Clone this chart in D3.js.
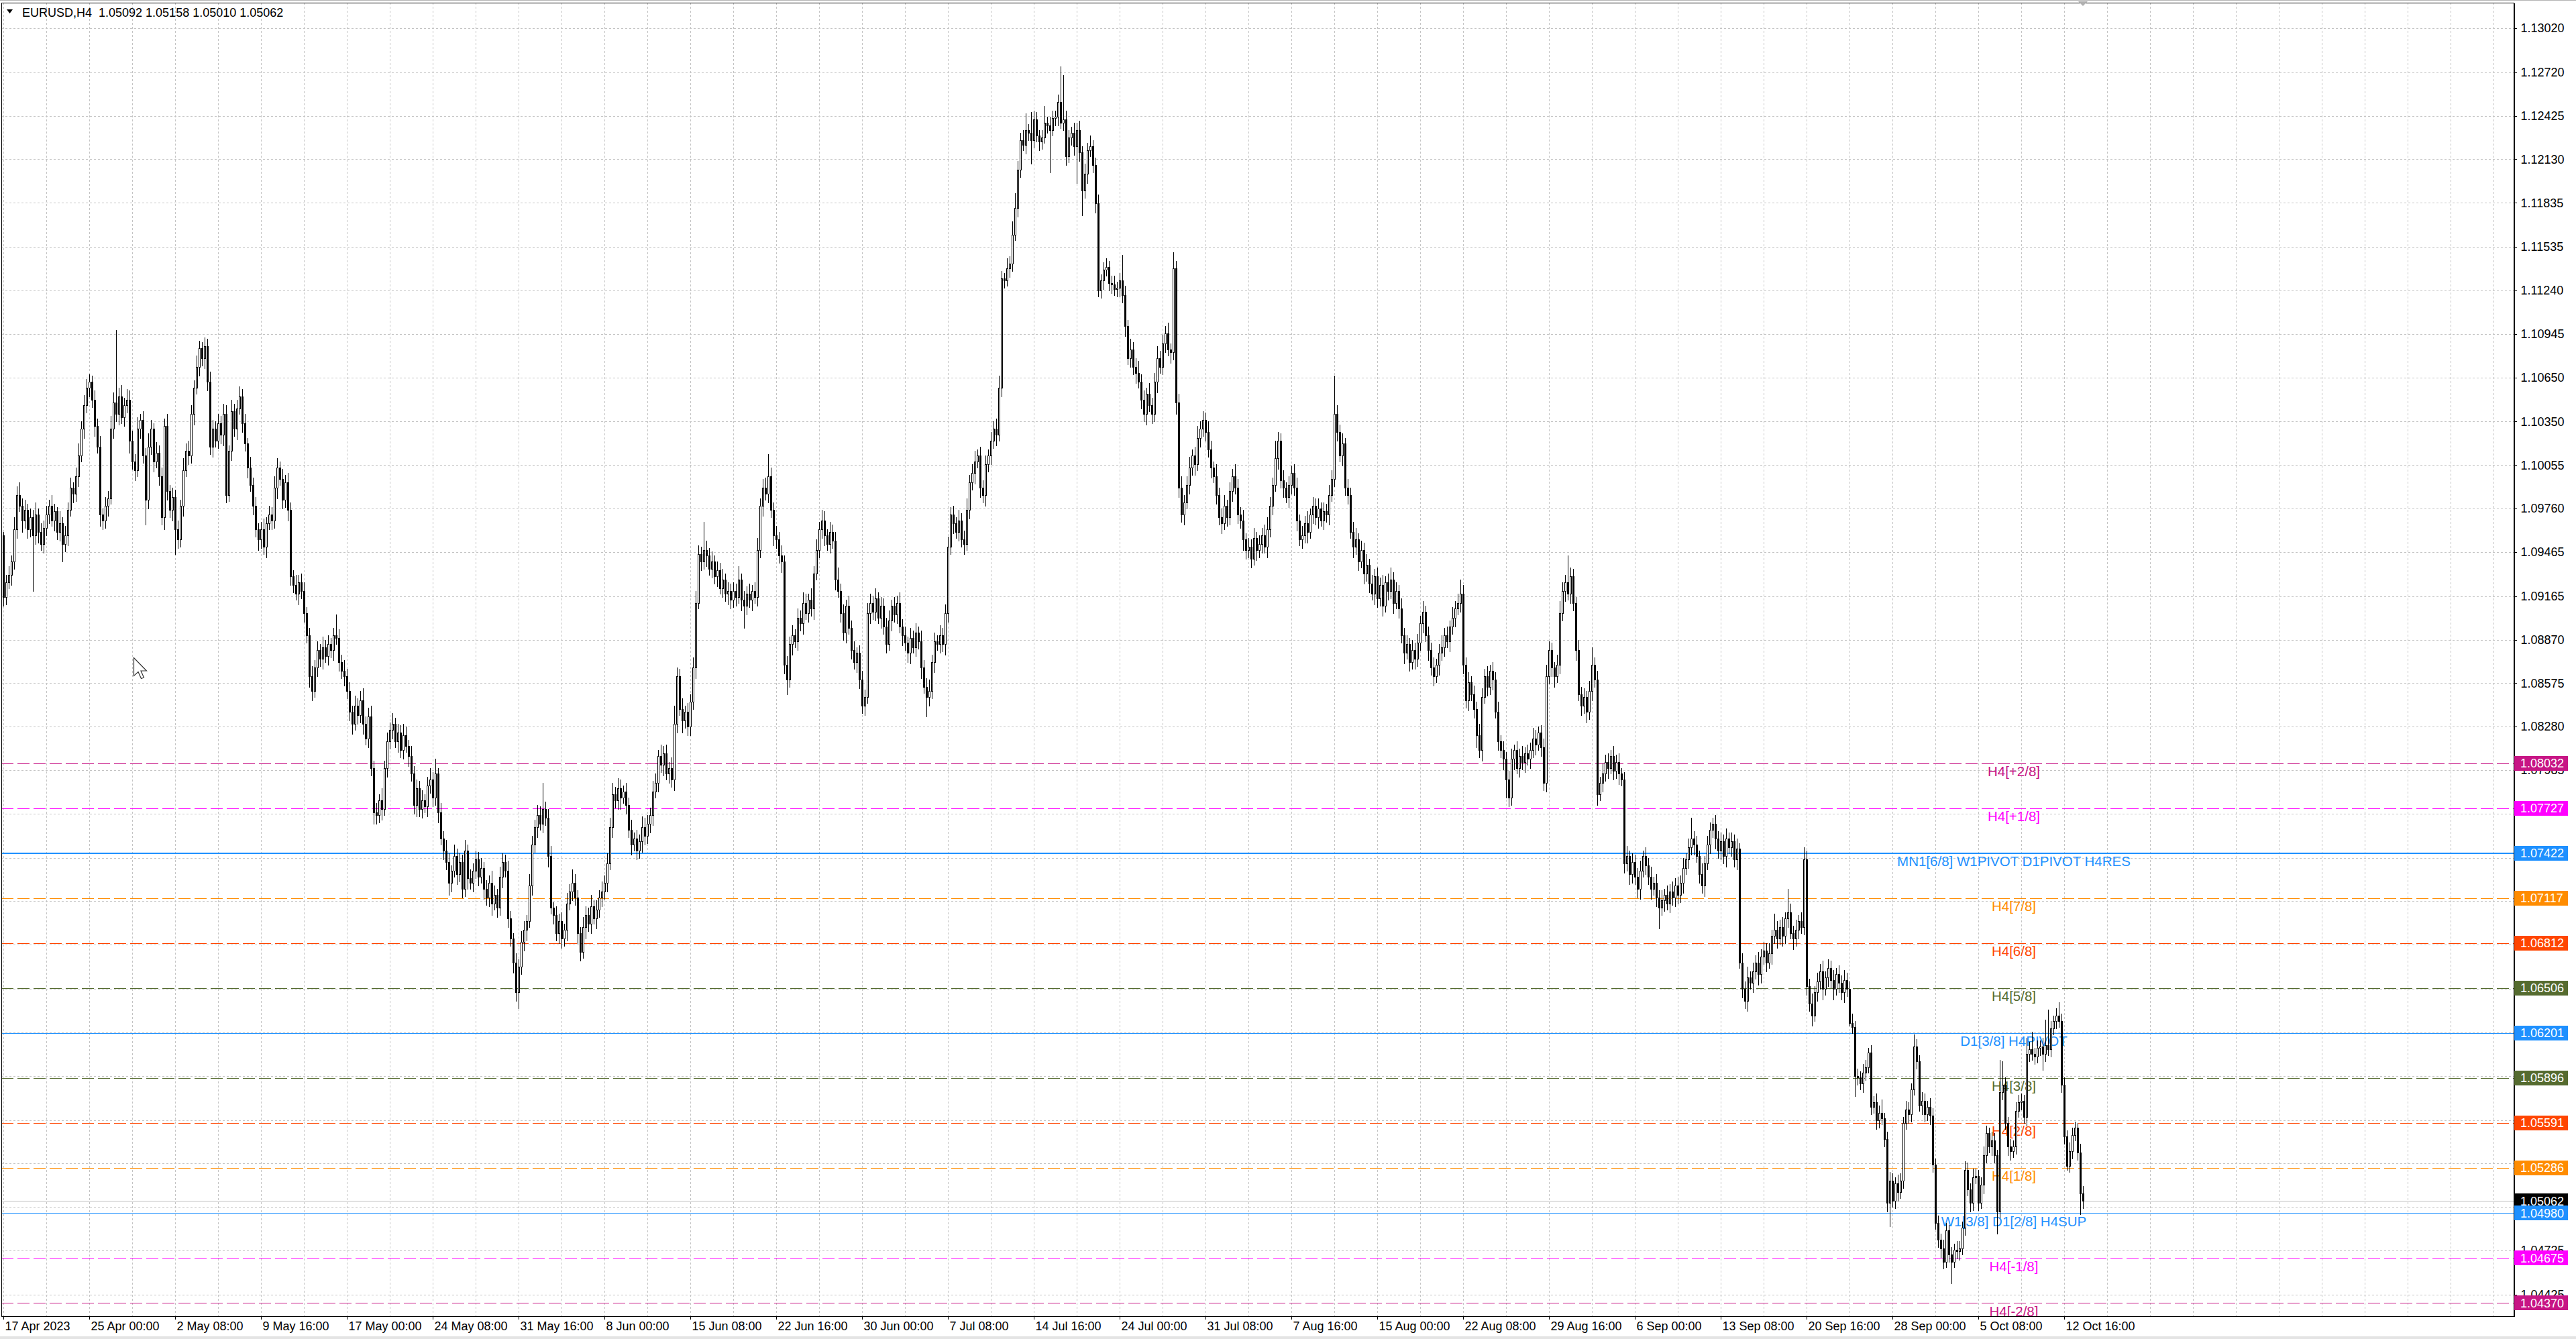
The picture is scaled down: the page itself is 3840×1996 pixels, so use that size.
<!DOCTYPE html>
<html lang="en">
<head>
<meta charset="UTF-8">
<title>EURUSD,H4</title>
<script src="https://d3js.org/d3.v7.min.js"></script>
<style>
  html, body { margin: 0; padding: 0; background: #fff; overflow: hidden; }
  svg { display: block; font-family: "Liberation Sans", Arial, sans-serif; }
  .grid line { stroke: #c4c4c4; stroke-width: 1; stroke-dasharray: 3,3; shape-rendering: crispEdges; }
  .axis line, .axis path { stroke: #000; shape-rendering: crispEdges; }
  .lvl-text { font-size: 20.5px; text-anchor: middle; }
</style>
</head>
<body>
<svg id="chart" width="3840" height="1996"></svg>
<script>
// H4 closes, in pips above 1.0000 (one row = 16 bars)
const closes = [
  916,926,931,940,962,985,978,968,975,962,970,958,972,960,952,963,
  972,978,968,974,960,966,952,958,975,990,986,998,1012,1030,1046,1058,
  1062,1050,1032,1018,972,968,978,983,1030,1048,1040,1052,1038,1046,1050,1022,
  1008,1002,1030,1036,1012,982,1018,1030,1008,1014,998,970,1032,988,975,984,
  962,955,978,1002,1015,1012,1040,1058,1072,1085,1078,1086,1062,1018,1030,1022,
  1034,1026,1040,985,1015,1042,1030,1044,1052,1034,1020,1004,992,978,962,955,
  962,950,966,972,968,990,1004,996,982,994,975,930,924,918,926,920,
  905,890,862,852,868,880,874,882,876,884,880,890,888,872,866,862,
  852,838,830,842,836,846,830,820,835,800,770,768,778,772,800,818,
  826,830,818,824,812,822,815,808,796,775,786,772,778,774,788,792,
  780,796,770,752,744,736,722,730,740,728,736,718,744,725,722,730,
  738,726,732,718,712,722,708,714,705,726,736,730,698,684,668,648,
  665,682,690,696,720,748,760,768,762,772,766,740,705,700,688,696,
  684,690,708,716,722,712,688,675,692,700,694,706,698,704,712,716,
  722,735,760,782,778,786,780,784,775,758,748,752,744,750,760,754,
  762,768,784,790,808,802,810,796,800,792,830,862,840,832,838,828,
  845,868,912,945,940,948,944,935,940,930,934,922,928,918,920,914,
  920,916,928,914,910,918,914,920,916,948,978,990,986,998,975,958,
  955,944,940,870,860,884,890,886,902,898,912,905,914,908,932,948,
  962,968,958,952,960,954,928,920,905,892,910,895,880,872,878,860,
  842,848,905,912,906,915,902,910,896,884,900,910,904,912,896,890,
  885,878,888,882,892,886,868,855,848,852,872,886,884,890,884,905,
  950,972,966,960,968,955,952,975,994,1000,1008,1012,990,985,1006,1012,
  1022,1030,1026,1058,1132,1131,1139,1142,1162,1180,1206,1226,1223,1233,1231,1226,
  1240,1229,1225,1228,1238,1236,1233,1241,1242,1252,1238,1240,1215,1228,1231,1222,
  1233,1218,1192,1203,1219,1222,1209,1183,1124,1131,1138,1140,1129,1128,1125,1126,
  1131,1121,1100,1078,1084,1072,1068,1062,1050,1040,1054,1046,1040,1062,1078,1072,
  1088,1095,1084,1082,1139,1048,990,972,980,992,1004,1012,1006,1024,1030,1036,
  1028,1016,1004,998,985,970,966,978,970,988,998,990,972,968,955,948,
  950,942,956,948,952,958,950,962,978,992,1010,1022,995,990,984,992,
  1000,990,968,955,958,966,960,972,978,970,976,968,974,972,985,996,
  1040,1028,1012,1020,990,985,960,950,955,940,948,932,938,925,918,930,
  915,924,910,926,920,928,912,920,908,890,878,884,872,880,874,885,
  898,906,890,880,868,862,870,878,882,890,886,896,902,908,912,918,
  870,846,858,850,840,822,812,848,862,855,866,860,838,818,812,806,
  792,780,806,812,800,808,804,810,806,812,820,816,824,814,790,862,
  880,868,862,870,905,920,926,918,930,912,880,850,842,848,838,852,
  870,860,782,790,796,804,800,808,798,804,796,792,735,740,728,736,
  726,718,730,740,734,726,718,722,712,705,710,714,708,716,712,720,
  714,722,732,738,746,752,748,740,728,720,735,748,758,762,752,744,
  750,740,752,746,750,738,745,668,650,642,658,654,662,668,660,672,
  676,668,674,686,690,684,692,686,698,702,688,684,690,696,692,738,
  652,640,632,648,655,662,650,658,664,656,650,660,654,648,656,650,
  627,624,591,590,586,593,597,607,570,573,561,566,562,548,505,520,
  506,518,512,520,559,568,565,582,611,601,571,574,565,570,564,531,
  491,480,474,465,486,470,465,473,472,474,488,527,514,505,522,523,
  505,517,537,552,543,547,537,499,580,585,559,543,540,543,567,573,
  574,563,606,609,606,604,610,611,606,612,609,623,628,632,628,585,
  550,530,540,551,556,539,511,506
];
const firstOpen = 958;

// wick lengths in pips, above the body and below the body
const upWick = [
  2,5,6,4,8,6,9,5,7,4,6,5,8,4,6,5,
  6,4,7,5,3,8,4,6,5,7,4,6,8,5,7,6,
  5,4,6,5,7,4,6,5,9,7,49,6,8,5,7,6,
  7,5,8,4,6,5,9,6,4,7,5,6,5,8,4,6,
  5,6,4,8,5,7,6,5,8,5,4,6,5,7,6,5,
  6,5,7,6,4,8,5,6,7,5,6,4,7,5,6,4,
  5,7,4,6,5,8,6,4,7,5,6,5,4,7,5,6,
  6,4,5,7,5,6,4,7,5,6,4,5,14,6,5,7,
  5,6,4,7,5,6,8,5,6,7,5,6,4,8,5,6,
  5,7,4,6,5,8,6,4,7,5,6,5,7,4,6,8,
  5,10,4,6,5,7,6,4,8,5,6,5,7,4,6,5,
  6,5,7,4,6,5,8,6,4,7,6,5,7,5,4,6,
  5,7,6,4,8,6,5,7,6,18,5,6,7,4,6,5,
  6,4,7,5,9,6,5,4,7,6,5,8,4,6,5,7,
  5,7,6,8,5,7,6,4,6,5,7,4,6,5,7,6,
  6,5,7,6,4,8,5,6,4,7,12,6,5,7,4,6,
  5,7,8,6,5,19,6,5,7,4,6,5,7,4,6,5,
  6,5,9,4,6,5,7,4,6,8,5,6,7,15,6,5,
  6,5,7,4,6,5,7,4,6,5,7,6,4,8,5,7,
  5,7,6,4,7,5,6,8,5,6,4,7,5,6,4,5,
  6,5,7,6,5,7,4,6,5,6,7,4,6,5,7,5,
  6,4,7,5,6,4,7,5,6,8,5,6,4,7,5,6,
  7,5,6,4,7,5,6,8,5,6,7,4,6,5,6,4,
  6,5,7,8,5,4,7,5,9,10,6,5,7,11,4,14,
  6,5,4,5,11,4,6,5,4,5,24,30,6,5,4,7,
  5,6,4,7,5,7,4,5,6,4,5,6,4,5,6,4,
  5,17,6,4,7,5,6,8,5,6,4,7,5,6,8,5,
  6,5,7,4,11,5,6,8,5,6,7,4,6,8,5,6,
  5,7,6,4,8,5,6,7,4,6,5,8,6,5,7,4,
  6,5,7,4,6,5,7,8,6,5,12,6,5,7,4,6,
  5,6,7,4,6,5,8,4,6,5,7,4,6,5,7,6,
  26,6,5,7,4,6,5,7,8,4,6,5,7,4,6,5,
  6,5,7,4,6,8,5,6,4,7,5,6,4,7,5,6,
  5,7,4,6,5,7,4,6,8,5,6,4,7,5,6,10,
  6,5,7,4,6,5,8,6,5,7,4,6,5,7,4,6,
  5,6,7,4,6,5,7,4,6,5,7,6,4,5,6,8,
  6,5,4,7,8,6,5,18,6,5,4,7,5,6,4,7,
  12,5,6,4,7,5,6,4,7,5,6,4,5,7,4,6,
  5,6,7,4,6,5,7,4,6,5,7,4,6,5,7,5,
  6,5,7,4,6,14,5,6,4,7,5,6,5,4,6,5,
  6,5,7,4,6,5,7,4,6,5,7,4,6,5,7,5,
  6,5,7,4,11,6,5,7,4,16,6,5,7,4,6,8,
  6,5,7,4,6,5,7,4,6,5,7,4,6,5,7,5,
  5,6,4,5,4,6,5,3,5,4,6,5,9,4,5,6,
  5,4,6,5,4,6,5,4,8,5,4,6,5,4,6,5,
  4,5,4,6,5,4,5,4,6,5,4,6,5,4,6,5,
  4,5,6,5,4,6,5,4,22,16,5,4,5,4,6,5,
  5,4,11,5,12,4,5,4,6,17,24,5,4,5,9,5,
  5,4,6,5,4,3,6,5
];
const lowWick = [
  6,5,4,7,5,6,4,8,5,6,5,38,6,7,4,6,
  5,6,4,7,5,6,12,5,7,4,6,5,7,4,6,5,
  6,5,7,4,8,6,5,7,4,6,5,7,4,6,5,8,
  5,7,4,6,5,17,6,5,7,4,6,5,8,6,5,7,
  17,6,5,7,4,6,5,7,4,6,5,7,6,5,7,4,
  5,6,7,5,4,6,5,7,4,6,5,7,4,6,5,7,
  6,5,7,4,6,5,7,4,6,5,7,6,5,4,7,5,
  6,5,7,6,4,6,5,7,4,6,5,7,4,6,5,6,
  5,6,7,4,6,5,7,4,6,5,8,6,5,7,4,6,
  5,6,4,7,5,6,4,7,5,6,8,5,6,4,7,5,
  6,5,7,4,6,5,8,6,4,7,5,6,5,7,4,6,
  5,6,4,7,5,6,8,4,6,5,7,4,6,5,7,6,
  11,5,6,7,4,6,5,7,4,6,5,7,4,6,5,7,
  6,5,7,4,6,5,7,6,4,8,5,6,4,7,5,6,
  5,6,4,7,5,6,8,4,6,5,7,4,6,5,7,6,
  5,6,7,4,6,5,7,4,6,5,7,6,4,8,5,6,
  6,5,7,4,6,5,7,4,6,5,7,4,6,5,7,6,
  5,6,4,7,15,6,5,7,4,6,5,7,4,6,5,7,
  6,5,7,6,10,5,7,4,6,5,7,4,6,5,7,4,
  5,6,7,4,6,5,7,4,6,5,7,4,6,5,7,6,
  5,6,4,7,5,6,4,7,5,6,4,7,5,6,4,7,
  5,6,7,4,6,5,7,4,13,6,5,7,4,6,5,7,
  6,5,7,4,6,5,7,4,6,5,7,4,6,5,7,5,
  6,5,7,4,6,5,4,6,5,4,6,5,4,6,5,16,
  5,4,6,5,4,5,29,4,5,6,4,5,6,4,5,6,
  25,6,17,5,6,4,5,6,4,5,6,4,5,6,4,5,
  6,5,7,4,6,5,7,4,6,5,7,4,6,5,7,4,
  5,6,4,7,5,8,6,5,7,4,6,5,7,4,6,5,
  6,5,7,4,6,5,7,4,6,5,7,4,6,5,7,6,
  5,6,4,7,5,6,4,7,5,6,4,7,5,6,4,7,
  6,5,7,4,6,5,7,4,6,5,7,4,6,5,7,4,
  5,6,4,7,5,6,4,7,5,6,4,7,5,6,4,7,
  6,5,7,4,6,5,7,4,6,5,7,4,6,5,7,5,
  5,6,4,7,5,6,4,7,5,6,4,7,5,6,4,6,
  6,5,7,4,6,8,5,7,4,6,5,7,4,6,5,7,
  12,6,5,7,4,6,5,7,4,6,5,7,4,6,5,6,
  5,6,7,4,6,5,7,4,6,5,7,4,6,5,7,5,
  6,5,7,4,6,5,7,4,6,5,7,4,6,5,7,6,
  5,6,7,4,6,5,7,4,6,14,5,7,4,6,5,6,
  6,5,7,4,6,5,7,4,6,5,7,4,6,5,7,5,
  6,5,7,4,6,5,7,4,6,5,7,4,6,5,7,6,
  5,6,4,7,5,6,4,7,5,6,4,7,5,6,4,5,
  6,5,7,4,6,5,7,4,6,5,7,4,6,5,7,5,
  2,4,14,5,4,6,5,4,5,4,6,5,4,5,6,16,
  4,5,6,4,5,4,6,5,4,5,4,6,5,4,6,5,
  4,5,6,5,4,5,15,4,5,6,4,5,4,6,5,4,
  5,4,6,5,4,6,5,15,4,5,4,6,6,4,5,4,
  5,4,6,5,4,5,4,5,11,5,4,5,4,5,4,5,
  5,3,4,5,4,5,14,5
];

// one time label every 32 bars
const timeLabels = [
  "17 Apr 2023", "25 Apr 00:00", "2 May 08:00", "9 May 16:00", "17 May 00:00",
  "24 May 08:00", "31 May 16:00", "8 Jun 00:00", "15 Jun 08:00", "22 Jun 16:00",
  "30 Jun 00:00", "7 Jul 08:00", "14 Jul 16:00", "24 Jul 00:00", "31 Jul 08:00",
  "7 Aug 16:00", "15 Aug 00:00", "22 Aug 08:00", "29 Aug 16:00", "6 Sep 00:00",
  "13 Sep 08:00", "20 Sep 16:00", "28 Sep 00:00", "5 Oct 08:00", "12 Oct 16:00"
];
const labelEvery = 32;

const priceTicks = [
  1.13020, 1.12720, 1.12425, 1.12130, 1.11835, 1.11535, 1.11240, 1.10945,
  1.10650, 1.10350, 1.10055, 1.09760, 1.09465, 1.09165, 1.08870, 1.08575,
  1.08280, 1.07985, 1.07690, 1.07390, 1.07095, 1.06800, 1.06500, 1.06205,
  1.05910, 1.05610, 1.05315, 1.05020, 1.04725, 1.04425
];

const levelPrices = [1.08032, 1.07727, 1.07422, 1.07117, 1.06812, 1.06506, 1.06201,
                     1.05896, 1.05591, 1.05286, 1.04980, 1.04675, 1.04370];
const levelNames = ["H4[+2/8]", "H4[+1/8]", "MN1[6/8] W1PIVOT D1PIVOT H4RES", "H4[7/8]",
                    "H4[6/8]", "H4[5/8]", "D1[3/8] H4PIVOT", "H4[3/8]", "H4[2/8]",
                    "H4[1/8]", "W1[3/8] D1[2/8] H4SUP", "H4[-1/8]", "H4[-2/8]"];
const bidPrice = 1.05062;
const headerText = "EURUSD,H4  1.05092 1.05158 1.05010 1.05062";

// ---- styles ----
const levelColors = ["#C71585", "#FF00FF", "#1E90FF", "#FF8C00", "#FF4500", "#556B2F", "#1E90FF",
                     "#556B2F", "#FF4500", "#FF8C00", "#1E90FF", "#FF00FF", "#C71585"];
const levelSolid = [false, false, true, false, false, false, true, false, false, false, true, false, false];
const levelWidth = [1, 1, 2, 1, 1, 1, 1, 1, 1, 1, 1, 1, 1];

const W = 3840, H = 1996;
const plot = { left: 2, top: 4, right: 3747, bottom: 1962 };
const barStep = 4;
const barsVisible = 936;
const pip = 0.0001;

const x = d3.scaleLinear().domain([0, barsVisible]).range([5, 5 + barStep * barsVisible]);
const y = d3.scaleLinear().domain([1.04279, 1.13193]).range([plot.bottom, plot.top]);

const svg = d3.select("#chart");
svg.append("rect").attr("width", W).attr("height", H).attr("fill", "#fff");
// window edges
svg.append("rect").attr("x", 0).attr("y", 0).attr("width", W).attr("height", 1).attr("fill", "#b4b4b4");
svg.append("rect").attr("x", 0).attr("y", H - 4).attr("width", W).attr("height", 4).attr("fill", "#e4e4e4");

svg.append("clipPath").attr("id", "plotclip").append("rect")
  .attr("x", plot.left).attr("y", plot.top)
  .attr("width", plot.right - plot.left).attr("height", plot.bottom - plot.top);

const inner = svg.append("g").attr("clip-path", "url(#plotclip)");

// grid
const grid = inner.append("g").attr("class", "grid");
grid.selectAll("line.h").data(priceTicks).join("line").attr("class", "h")
  .attr("x1", plot.left).attr("x2", plot.right)
  .attr("y1", d => Math.round(y(d)) + 0.5).attr("y2", d => Math.round(y(d)) + 0.5);
grid.selectAll("line.v").data(d3.range(0, barsVisible, 16)).join("line").attr("class", "v")
  .attr("x1", d => x(d) + 0.5).attr("x2", d => x(d) + 0.5)
  .attr("y1", plot.top).attr("y2", plot.bottom);

// level lines + captions
const lv = levelPrices.map((p, i) => ({ p, name: levelNames[i], color: levelColors[i],
  solid: levelSolid[i], w: levelWidth[i] }));
inner.append("g").selectAll("line").data(lv).join("line")
  .attr("x1", plot.left).attr("x2", plot.right)
  .attr("y1", d => Math.round(y(d.p)) + (d.w === 1 ? 0.5 : 0))
  .attr("y2", d => Math.round(y(d.p)) + (d.w === 1 ? 0.5 : 0))
  .attr("stroke", d => d.color).attr("stroke-width", d => d.w)
  .attr("stroke-dasharray", d => d.solid ? null : "18,6")
  .attr("shape-rendering", "crispEdges");
inner.append("g").selectAll("text").data(lv).join("text")
  .attr("class", "lvl-text")
  .attr("x", x(749) + 1).attr("y", d => y(d.p) + 19.5)
  .attr("fill", d => d.color).text(d => d.name);

// bid line
inner.append("line").attr("x1", plot.left).attr("x2", plot.right)
  .attr("y1", Math.round(y(bidPrice)) + 0.5).attr("y2", Math.round(y(bidPrice)) + 0.5)
  .attr("stroke", "#c0c0c0").attr("shape-rendering", "crispEdges");

// candles
const bars = closes.map((c, i) => {
  const o = i ? closes[i - 1] : firstOpen;
  return { i, bull: c >= o,
    top: 1 + Math.max(o, c) * pip, bot: 1 + Math.min(o, c) * pip,
    hi: 1 + (Math.max(o, c) + upWick[i]) * pip, lo: 1 + (Math.min(o, c) - lowWick[i]) * pip };
});
const cg = inner.append("g").attr("shape-rendering", "crispEdges");
const candle = cg.selectAll("g").data(bars).join("g");
candle.append("rect")
  .attr("x", d => Math.round(x(d.i))).attr("width", 1)
  .attr("y", d => Math.round(y(d.hi)))
  .attr("height", d => Math.max(1, Math.round(y(d.lo)) - Math.round(y(d.hi)) + 1))
  .attr("fill", "#000");
candle.append("rect")
  .attr("x", d => Math.round(x(d.i)) - 1).attr("width", 3)
  .attr("y", d => Math.round(y(d.top)))
  .attr("height", d => Math.max(1, Math.round(y(d.bot)) - Math.round(y(d.top)) + 1))
  .attr("fill", "#000");
candle.filter(d => d.bull && Math.round(y(d.bot)) - Math.round(y(d.top)) >= 2)
  .append("rect")
  .attr("x", d => Math.round(x(d.i))).attr("width", 1)
  .attr("y", d => Math.round(y(d.top)) + 1)
  .attr("height", d => Math.round(y(d.bot)) - Math.round(y(d.top)) - 1)
  .attr("fill", "#fff");

// frame
svg.append("rect").attr("x", plot.left + 0.5).attr("y", plot.top + 0.5)
  .attr("width", plot.right - plot.left).attr("height", plot.bottom - plot.top)
  .attr("fill", "none").attr("stroke", "#000").attr("shape-rendering", "crispEdges");

// price axis (labels that sit fully under a level box are left out)
const boxPrices = levelPrices.concat([bidPrice]);
const freeTicks = priceTicks.filter(t => d3.min(boxPrices, p => Math.abs(y(p) - y(t))) > 9);
const yAxis = svg.append("g").attr("class", "axis")
  .attr("transform", `translate(${plot.right + 0.5},0)`)
  .call(d3.axisRight(y).tickValues(freeTicks).tickFormat(d3.format(".5f"))
    .tickSize(4).tickPadding(6).tickSizeOuter(0));
yAxis.attr("font-size", 18).attr("font-family", "'Liberation Sans', Arial, sans-serif");
yAxis.selectAll("text").attr("fill", "#000");

// time axis
const xAxis = svg.append("g").attr("class", "axis")
  .attr("transform", `translate(0,${plot.bottom + 0.5})`)
  .call(d3.axisBottom(x).tickValues(d3.range(0, closes.length, labelEvery))
    .tickFormat(d => timeLabels[d / labelEvery]).tickSize(4).tickPadding(4).tickSizeOuter(0));
xAxis.select(".domain").remove();
xAxis.attr("font-size", 18).attr("font-family", "'Liberation Sans', Arial, sans-serif");
xAxis.selectAll("text").attr("text-anchor", "start").attr("x", 2).attr("fill", "#000");

// level price boxes on the axis
const boxes = svg.append("g").attr("font-size", 18);
const boxData = [{ p: bidPrice, color: "#000" }].concat(lv.map(d => ({ p: d.p, color: d.color })));
const bx = boxes.selectAll("g").data(boxData).join("g");
bx.append("rect").attr("x", plot.right + 1).attr("width", 80)
  .attr("y", d => Math.round(y(d.p)) - 11).attr("height", 22).attr("fill", d => d.color);
bx.append("text").attr("x", plot.right + 10).attr("y", d => y(d.p) + 6.5)
  .attr("fill", "#fff").text(d => d3.format(".5f")(d.p));

// header
svg.append("path").attr("d", "M10,14 L19,14 L14.5,20 Z").attr("fill", "#000");
svg.append("text").attr("x", 33).attr("y", 25).attr("font-size", 18)
  .style("white-space", "pre").attr("fill", "#000").text(headerText);

// chart shift marker
svg.append("path").attr("d", `M${x(775) - 7},2 L${x(775) + 7},2 L${x(775)},9 Z`).attr("fill", "#b0b0b0");

// mouse pointer left on the chart
svg.append("path")
  .attr("d", "M0,0 L0,27 L6.5,21 L11,31 L15,29.5 L10.5,19.5 L19,19.5 Z")
  .attr("transform", "translate(199.5,980.5)")
  .attr("fill", "#fff").attr("stroke", "#333").attr("stroke-width", 1.2);
</script>
</body>
</html>
